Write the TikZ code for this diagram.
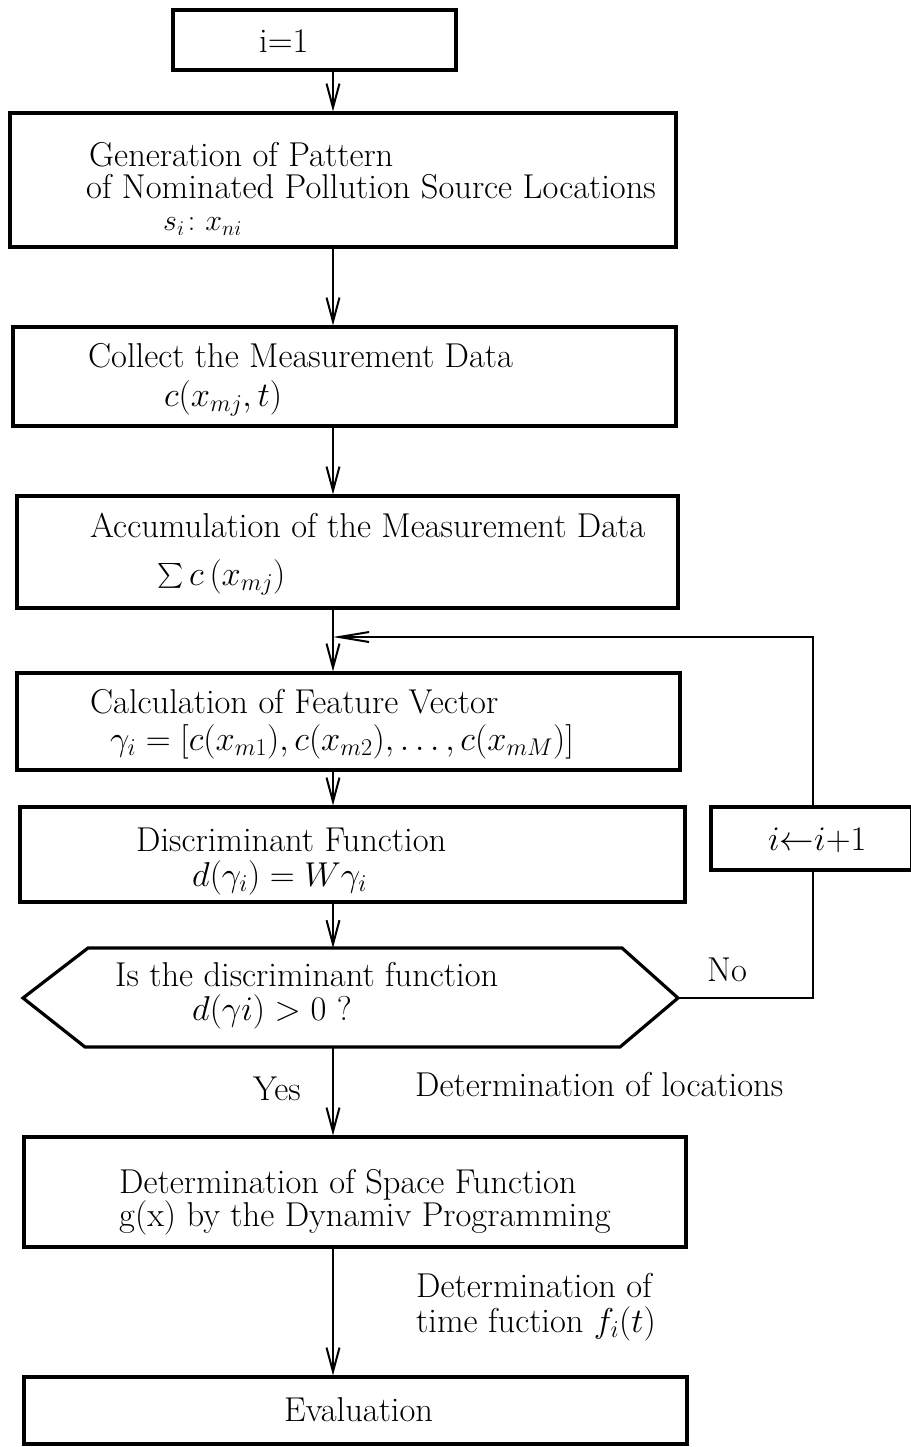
\RequirePackage{fix-cm}
\documentclass[tikz,border=0pt]{standalone}
\usepackage{amsmath}
\usetikzlibrary{arrows.meta}
\begin{document}
\begin{tikzpicture}[x=1pt,y=-1pt,
  box/.style={draw, line width=3.2pt, rectangle, inner sep=0pt},
  txt/.style={anchor=base west, inner sep=0pt, font=\fontsize{34.5}{40}\selectfont},
  small/.style={txt, font=\fontsize{30}{34}\selectfont},
  conn/.style={line width=2.2pt},
  flow/.style={conn, -{Straight Barb[length=24pt,width=13pt,line width=2pt]}},
  back/.style={conn, -{Straight Barb[length=30pt,width=10pt,line width=2pt]}}]

\useasboundingbox (0,0) rectangle (910,1447);
\fill[white] (0,0) rectangle (910,1447);

% guide columns for the main flow and the return loop
\coordinate (spine) at (333,0);
\coordinate (loopx) at (813,0);
\coordinate (join) at (333,637);

% process boxes
\node[box, minimum width=283pt, minimum height=60pt]  (b1)    at (314.5,40)   {};
\node[box, minimum width=666pt, minimum height=134pt] (b2)    at (343,180)    {};
\node[box, minimum width=663pt, minimum height=99pt]  (b3)    at (344.5,376.5){};
\node[box, minimum width=661pt, minimum height=112pt] (b4)    at (347.5,552)  {};
\node[box, minimum width=663pt, minimum height=97pt]  (b5)    at (348.5,721.5){};
\node[box, minimum width=665pt, minimum height=95pt]  (b6)    at (352.5,854.5){};
\node[box, minimum width=201pt, minimum height=63pt]  (inc)   at (811.5,838.5){};
\node[box, minimum width=662pt, minimum height=110pt] (space) at (355,1192)   {};
\node[box, minimum width=663pt, minimum height=67pt]  (eval)  at (355.5,1410.5){};

% decision hexagon
\coordinate (hL)  at (23,998);
\coordinate (hTL) at (88,948);
\coordinate (hTR) at (622,948);
\coordinate (hR)  at (678,998);
\coordinate (hBR) at (620,1047);
\coordinate (hBL) at (85,1047);
\draw[line width=3.2pt, line join=miter] (hL) -- (hTL) -- (hTR) -- (hR) -- (hBR) -- (hBL) -- cycle;

% texts
\node[txt] (t1)  at (259,53)  {i=1};
\node[txt] (t2a) at (89,167)  {Generation of Pattern};
\node[txt] (t2b) at (86,199)  {of Nominated Pollution Source Locations};
\node[small] (t2c) at (163,231) {$s_i\colon x_{ni}$};
\node[txt] (t3a) at (88,367)  {Collect the Measurement Data};
\node[txt] (t3b) at (164,406) {$c(x_{mj},t)$};
\node[txt] (t4a) at (90,537)  {Accumulation of the Measurement Data};
\node[txt] (t4b) at (157,585) {$\sum c\,(x_{mj})$};
\node[txt] (t5a) at (90,713)  {Calculation of Feature Vector};
\node[txt] (t5b) at (110,750) {$\gamma_i = [c(x_{m1}), c(x_{m2}),\ldots, c(x_{mM})]$};
\node[txt] (t6a) at (136,851) {Discriminant Function};
\node[txt] (t6b) at (192,886) {$d(\gamma_i) = W\gamma_i$};
\node[txt] (tinc) at (768,850) {$i{\leftarrow}i{+}1$};
\node[txt] (t7a) at (115,986) {Is the discriminant function};
\node[txt] (t7b) at (192,1020) {$d(\gamma i) > 0$ ?};
\node[txt] (tno) at (707,981) {No};
\node[txt] (tyes) at (253,1100) {Yes};
\node[txt] (tloc) at (415,1096) {Determination of locations};
\node[txt] (t8a) at (119,1193) {Determination of Space Function};
\node[txt] (t8b) at (119,1226) {g(x) by the Dynamiv Programming};
\node[txt] (t9a) at (416,1297) {Determination of};
\node[txt] (t9b) at (416,1332) {time fuction $f_i(t)$};
\node[txt] (teval) at (284,1421) {Evaluation};

% main flow
\draw[flow] (b1.south -| spine) -- (b2.north -| spine);
\draw[flow] (b2.south -| spine) -- (b3.north -| spine);
\draw[flow] (b3.south -| spine) -- (b4.north -| spine);
\draw[flow] (b4.south -| spine) -- (b5.north -| spine);
\draw[flow] (b5.south -| spine) -- (b6.north -| spine);
\draw[flow] (b6.south -| spine) -- (hTL -| spine);
\draw[flow] (hBL -| spine) -- (space.north -| spine);
\draw[flow] (space.south -| spine) -- (eval.north -| spine);

% return loop on "No"
\draw[conn] (hR) -- (hR -| loopx) -- (inc.south -| loopx);
\draw[back] (inc.north -| loopx) -- (join -| loopx) -- (join);
\end{tikzpicture}
\end{document}
